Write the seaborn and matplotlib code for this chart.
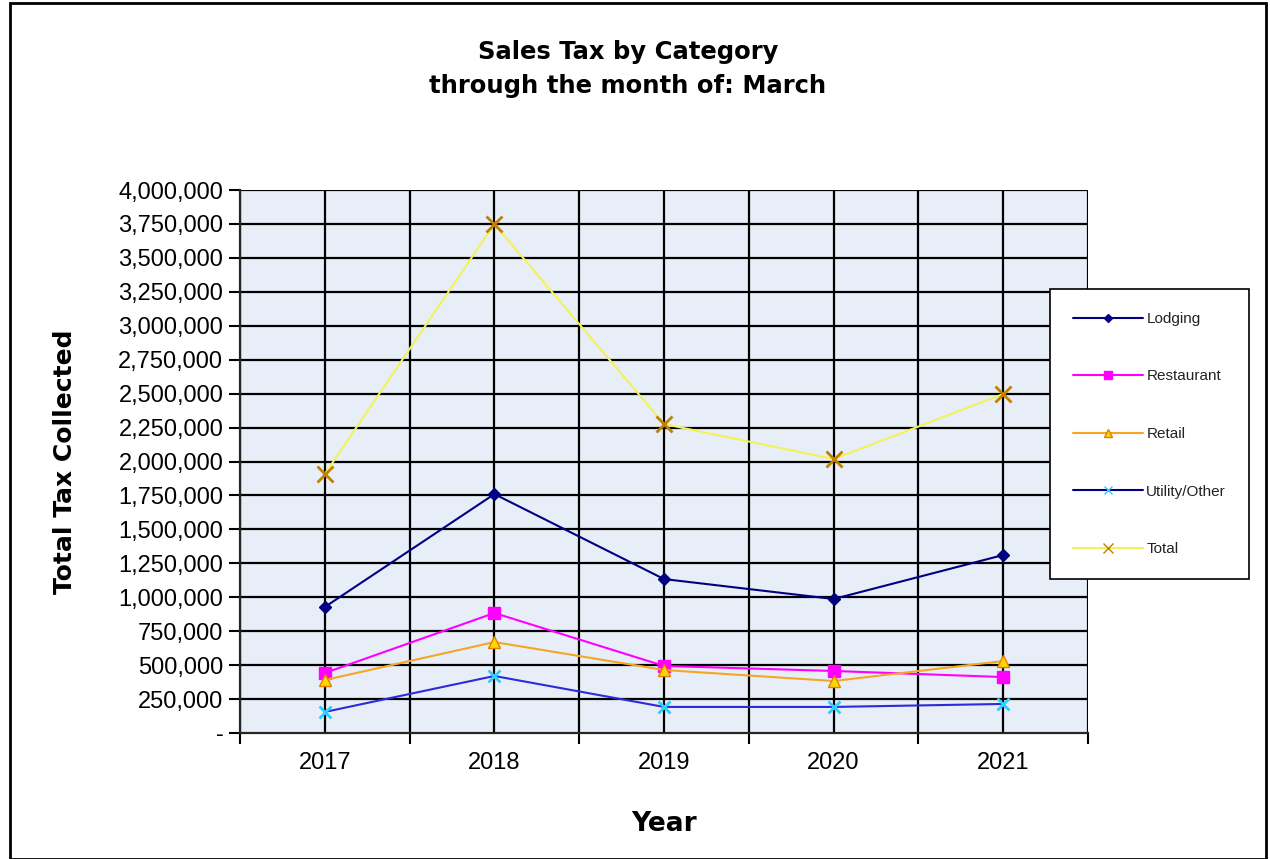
import pandas as pd
import numpy as np
import matplotlib
matplotlib.use("Agg")
import matplotlib.pyplot as plt
import seaborn as sns
from matplotlib.lines import Line2D
from matplotlib.patches import Rectangle
from matplotlib.ticker import FuncFormatter

years = ["2017", "2018", "2019", "2020", "2021"]
lodging = [928000, 1760000, 1134000, 987000, 1311000]
restaurant = [442000, 884000, 494000, 457000, 412000]
retail = [390000, 670000, 464000, 383000, 530000]
utility = [155000, 420000, 192000, 192000, 214000]
total = [1908000, 3749000, 2276000, 2018000, 2497000]

series = ["Lodging", "Restaurant", "Retail", "Utility/Other", "Total"]
values = [lodging, restaurant, retail, utility, total]

rows = []
for name, vals in zip(series, values):
    for i, (yr, v) in enumerate(zip(years, vals)):
        rows.append({"pos": i, "year": yr, "series": name, "tax": v})
df = pd.DataFrame(rows)

colors = {"Lodging": "#000080", "Restaurant": "#FF00FF", "Retail": "#F5A623",
          "Utility/Other": "#2B2BD9", "Total": "#F2F25A"}
markers = {"Lodging": "D", "Restaurant": "s", "Retail": "^",
           "Utility/Other": "x", "Total": "x"}
mfc = {"Lodging": "#000080", "Restaurant": "#FF00FF", "Retail": "#FFD700",
       "Utility/Other": "#33CCFF", "Total": "#E0A000"}
mec = {"Lodging": "#000080", "Restaurant": "#FF00FF", "Retail": "#E08000",
       "Utility/Other": "#33CCFF", "Total": "#C08000"}
msize = {"Lodging": 6, "Restaurant": 9, "Retail": 9, "Utility/Other": 8, "Total": 11}

sns.set_style("white")
plt.rcParams["font.family"] = ["Liberation Sans", "DejaVu Sans"]
for k in ["text.color", "axes.labelcolor", "xtick.color", "ytick.color"]:
    plt.rcParams[k] = "black"

fig = plt.figure(figsize=(12.7, 8.59), dpi=100)
ax = fig.add_axes([240 / 1270, 1 - 733 / 859, 848 / 1270, 543 / 859])
ax.set_facecolor("#E8EEF8")

for name in series:
    sub = df[df["series"] == name]
    sns.lineplot(data=sub, x="pos", y="tax", ax=ax, color=colors[name],
                 marker=markers[name], markersize=msize[name],
                 markerfacecolor=mfc[name], markeredgecolor=mec[name],
                 markeredgewidth=2 if markers[name] == "x" else 1,
                 linewidth=1.5, zorder=5)

ax.set_xlim(-0.5, 4.5)
ax.set_ylim(0, 4000000)
ax.set_yticks(np.arange(0, 4000001, 250000))
ax.yaxis.set_major_formatter(FuncFormatter(lambda v, p: "-" if v == 0 else f"{int(v):,}"))
ax.set_xticks(range(len(years)))
ax.set_xticklabels(years)
ax.set_xticks(np.arange(-0.5, 4.6, 1.0), minor=True)

for yv in np.arange(250000, 4000001, 250000):
    ax.axhline(yv, color="black", linewidth=1.6, zorder=1)
for xv in np.arange(-0.5, 4.6, 0.5):
    ax.axvline(xv, color="black", linewidth=1.6, zorder=1)

for s in ["top", "right"]:
    ax.spines[s].set_visible(False)
ax.spines["left"].set_linewidth(1.6)
ax.spines["bottom"].set_linewidth(1.6)

ax.tick_params(axis="y", which="major", direction="out", length=8, width=1.5,
               labelsize=17, left=True, pad=4)
ax.tick_params(axis="x", which="major", length=0, labelsize=17, pad=14)
ax.tick_params(axis="x", which="minor", direction="out", length=8, width=1.5, bottom=True)

ax.set_xlabel("Year", fontsize=19, fontweight="bold", family="DejaVu Sans", labelpad=26)
ax.set_ylabel("Total Tax Collected", fontsize=18, fontweight="bold", family="DejaVu Sans", labelpad=30)

fig.text(628 / 1270, 1 - 52 / 859, "Sales Tax by Category", ha="center", va="center",
         fontsize=17.5, fontweight="bold", family="DejaVu Sans")
fig.text(628 / 1270, 1 - 86 / 859, "through the month of: March", ha="center", va="center",
         fontsize=17.5, fontweight="bold", family="DejaVu Sans")

handles = [Line2D([0], [0], color=colors[n] if n != "Utility/Other" else "#000080",
                  marker=markers[n], markersize=msize[n] * 0.7,
                  markerfacecolor=mfc[n], markeredgecolor=mec[n], linewidth=1.5)
           for n in series]
leg = fig.legend(handles, series, loc="upper left",
                 bbox_to_anchor=(1050 / 1270, 1 - 289 / 859), fontsize=11,
                 frameon=True, fancybox=False, edgecolor="black", framealpha=1,
                 labelspacing=2.85, borderpad=1.5, handlelength=4.6, handletextpad=0.2,
                 borderaxespad=0)
leg.get_frame().set_linewidth(1.2)
for t in leg.get_texts():
    t.set_color("#222222")

fig.patches.append(Rectangle((10 / 1270, 0), 1256 / 1270, 1 - 3 / 859, transform=fig.transFigure,
                             fill=False, edgecolor="black", linewidth=2))

fig.savefig("out.png", dpi=100)
